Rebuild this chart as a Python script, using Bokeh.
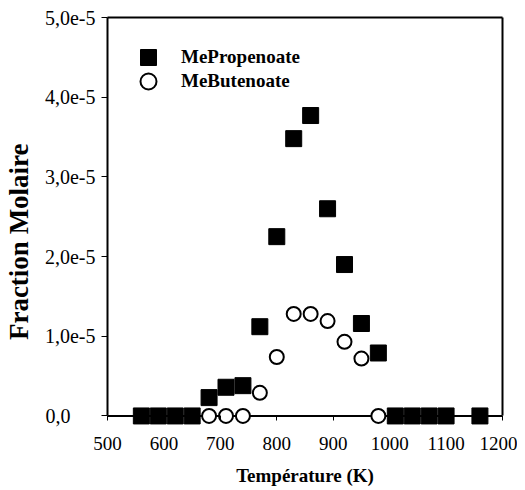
from bokeh.plotting import figure
from bokeh.models import (Legend, LegendItem, Span, LinearAxis, FixedTicker, Range1d)
from bokeh.embed import file_html
from bokeh.resources import INLINE

# ---- data ----
temp_propenoate = [560, 590, 620, 650, 680, 710, 740, 770, 800, 830, 860, 890, 920, 950, 980,
                   1010, 1040, 1070, 1100, 1160]
me_propenoate = [0, 0, 0, 0, 0.23e-5, 0.36e-5, 0.38e-5, 1.12e-5, 2.25e-5, 3.48e-5, 3.77e-5,
                 2.6e-5, 1.9e-5, 1.16e-5, 0.79e-5, 0, 0, 0, 0, 0]
temp_butenoate = [680, 710, 740, 770, 800, 830, 860, 890, 920, 950, 980]
me_butenoate = [0, 0, 0, 0.29e-5, 0.74e-5, 1.28e-5, 1.28e-5, 1.19e-5, 0.93e-5, 0.72e-5, 0]

x_ticks = [500, 600, 700, 800, 900, 1000, 1100, 1200]
y_ticks = [0, 1e-5, 2e-5, 3e-5, 4e-5, 5e-5]
# "0,0" is left-aligned with the other labels in the original (padded with no-break spaces)
y_tick_labels = ["0,0" + "\u00a0" * 5, "1,0e-5", "2,0e-5", "3,0e-5", "4,0e-5", "5,0e-5"]

FONT = "Liberation Serif"

p = figure(width=517, height=488, x_range=Range1d(500, 1200), y_range=Range1d(-0.12e-5, 5e-5),
           output_backend="svg", toolbar_location=None,
           min_border_left=104, min_border_right=15, min_border_top=17, min_border_bottom=63)
p.outline_line_color = None
p.xgrid.grid_line_color = None
p.ygrid.grid_line_color = None
p.background_fill_color = "white"
p.border_fill_color = "white"

# zero line (x axis line)
p.add_layout(Span(location=0, dimension="width", line_color="black", line_width=2, level="underlay"))

# x axis
xa = p.xaxis[0]
xa.ticker = FixedTicker(ticks=x_ticks)
xa.axis_line_color = None
xa.major_tick_in = 10
xa.major_tick_out = -5
xa.major_tick_line_width = 1
xa.minor_tick_line_color = None
xa.major_label_standoff = 11
xa.major_label_text_font = FONT
xa.major_label_text_font_size = "19px"
xa.major_label_text_color = "black"
xa.axis_label = "Température (K)"
xa.axis_label_text_font = FONT
xa.axis_label_text_font_style = "bold"
xa.axis_label_text_font_size = "19px"
xa.axis_label_standoff = 12
xa.axis_label_text_color = "black"

# y axis
ya = p.yaxis[0]
ya.ticker = FixedTicker(ticks=y_ticks)
ya.major_label_overrides = dict(zip(y_ticks, y_tick_labels))
ya.bounds = (0, 5e-5)
ya.axis_line_width = 2
ya.major_tick_in = 0
ya.major_tick_out = 6
ya.minor_tick_line_color = None
ya.major_label_standoff = 6
ya.major_label_text_font = FONT
ya.major_label_text_font_size = "20px"
ya.major_label_text_color = "black"
ya.axis_label = "Fraction Molaire" + "\u00a0" * 6
ya.axis_label_text_font = FONT
ya.axis_label_text_font_style = "bold"
ya.axis_label_text_font_size = "27px"
ya.axis_label_standoff = 8
ya.axis_label_text_color = "black"

# frame lines on top and right
top = LinearAxis(ticker=FixedTicker(ticks=[]), axis_line_width=2,
                 major_tick_line_color=None, minor_tick_line_color=None,
                 major_label_text_font_size="0px")
p.add_layout(top, "above")
right = LinearAxis(ticker=FixedTicker(ticks=[]), axis_line_width=2, bounds=(0, 5e-5),
                   major_tick_line_color=None, minor_tick_line_color=None,
                   major_label_text_font_size="0px")
p.add_layout(right, "right")

r1 = p.scatter(x=temp_propenoate, y=me_propenoate, marker="square", size=16,
               fill_color="black", line_color="black")
r2 = p.scatter(x=temp_butenoate, y=me_butenoate, marker="circle", size=14,
               fill_color="white", line_color="black", line_width=2)

legend_style = dict(glyph_width=40, glyph_height=40, padding=0, margin=0,
                    border_line_color=None, background_fill_alpha=0,
                    label_standoff=13, label_text_font=FONT, label_text_font_style="bold",
                    label_text_font_size="19px", label_text_color="black")
p.add_layout(Legend(items=[LegendItem(label="MePropenoate", renderers=[r1])],
                    location=(21, 348), **legend_style))
p.add_layout(Legend(items=[LegendItem(label="MeButenoate", renderers=[r2])],
                    location=(21, 324), **legend_style))

open("out.html", "w").write(file_html(p, INLINE))
